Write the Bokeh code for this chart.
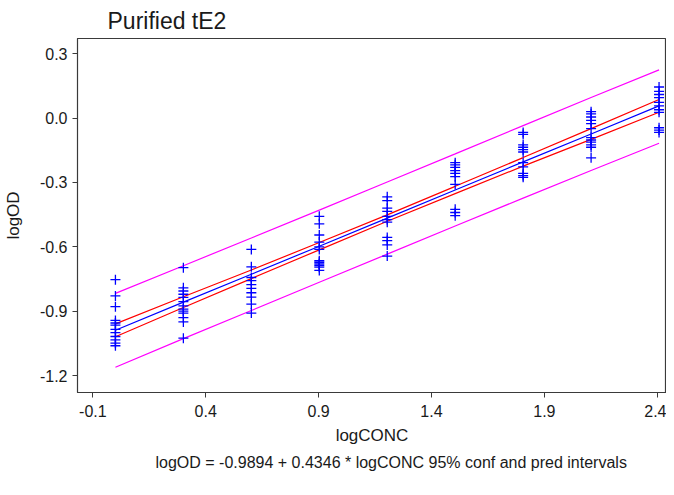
from bokeh.plotting import figure
from bokeh.models import Range1d, FixedTicker, Title, ColumnDataSource, PrintfTickFormatter
from bokeh.embed import file_html
from bokeh.resources import INLINE

# ---- data ----
log_conc = [0.0, 0.301, 0.602, 0.903, 1.204, 1.505, 1.806, 2.107, 2.408]

od_0 = [-0.753, -0.829, -0.879, -0.943, -0.955, -0.965, -0.985, -1.000, -1.018, -1.034, -1.049, -1.061]
od_1 = [-0.697, -0.791, -0.806, -0.821, -0.836, -0.855, -0.875, -0.890, -0.900, -0.909, -0.930, -0.950, -1.026]
od_2 = [-0.612, -0.693, -0.743, -0.758, -0.776, -0.794, -0.814, -0.834, -0.867, -0.909]
od_3 = [-0.458, -0.493, -0.545, -0.578, -0.600, -0.612, -0.665, -0.672, -0.680, -0.688, -0.695, -0.710]
od_4 = [-0.367, -0.385, -0.420, -0.435, -0.458, -0.473, -0.485, -0.556, -0.571, -0.591, -0.643]
od_5 = [-0.208, -0.218, -0.230, -0.245, -0.258, -0.273, -0.309, -0.425, -0.440, -0.455]
od_6 = [-0.067, -0.076, -0.125, -0.136, -0.147, -0.158, -0.208, -0.227, -0.258, -0.268, -0.276]
od_7 = [0.030, 0.020, 0.005, -0.011, -0.026, -0.049, -0.091, -0.102, -0.112, -0.125, -0.136, -0.185]
od_8 = [0.145, 0.125, 0.110, 0.095, 0.073, 0.057, 0.039, 0.027, -0.045, -0.056, -0.067]

fit_line = [-0.989, -0.858, -0.728, -0.597, -0.466, -0.335, -0.204, -0.074, 0.057]
conf_upper = [-0.959, -0.833, -0.708, -0.580, -0.451, -0.318, -0.184, -0.049, 0.087]
conf_lower = [-1.019, -0.883, -0.748, -0.614, -0.481, -0.352, -0.224, -0.099, 0.027]
pred_upper = [-0.817, -0.688, -0.559, -0.429, -0.298, -0.167, -0.035, 0.096, 0.225]
pred_lower = [-1.161, -1.028, -0.897, -0.765, -0.634, -0.503, -0.373, -0.244, -0.117]

x_ticks = [-0.1, 0.4, 0.9, 1.4, 1.9, 2.4]
y_ticks = [-1.2, -0.9, -0.6, -0.3, 0.0, 0.3]

title_text = "Purified tE2"
x_label = "logCONC"
y_label = "logOD"
footer_text = "logOD = -0.9894 + 0.4346 * logCONC 95% conf and pred intervals"

# ---- build ----
groups = [od_0, od_1, od_2, od_3, od_4, od_5, od_6, od_7, od_8]
px, py = [], []
for xv, ys in zip(log_conc, groups):
    for yv in ys:
        px.append(xv)
        py.append(yv)

FONT = "Liberation Sans"
TXT = "#1a1a1a"

p = figure(width=666, height=479, output_backend="svg", toolbar_location=None,
           x_range=Range1d(-0.168, 2.441), y_range=Range1d(-1.279, 0.371),
           min_border_left=0, min_border_right=0, min_border_top=0,
           min_border_bottom=0)

p.title.text = title_text
p.title.text_font = FONT
p.title.text_font_size = "23px"
p.title.text_font_style = "normal"
p.title.text_color = TXT
p.title.align = "left"
p.title.offset = 30
p.title.standoff = 10

p.xgrid.visible = False
p.ygrid.visible = False
p.outline_line_color = "#3a3a3a"
p.outline_line_width = 1.2

for ax, ticks in ((p.xaxis, x_ticks), (p.yaxis, y_ticks)):
    ax.ticker = FixedTicker(ticks=ticks)
    ax.formatter = PrintfTickFormatter(format="%.1f")
    ax.minor_tick_line_color = None
    ax.major_tick_in = 0
    ax.major_tick_out = 5
    ax.axis_line_color = "#3a3a3a"
    ax.major_tick_line_color = "#3a3a3a"
    ax.major_label_text_font = FONT
    ax.major_label_text_font_size = "16px"
    ax.major_label_text_color = TXT
    ax.axis_label_text_font = FONT
    ax.axis_label_text_font_size = "17px"
    ax.axis_label_text_font_style = "normal"
    ax.axis_label_text_color = TXT

p.xaxis.axis_label = x_label
p.yaxis.axis_label = y_label
p.xaxis.major_label_standoff = 7
p.yaxis.major_label_standoff = 5
p.xaxis.axis_label_standoff = 6
p.yaxis.axis_label_standoff = 14

p.line(log_conc, pred_upper, line_color="#ff00ff", line_width=1.2)
p.line(log_conc, pred_lower, line_color="#ff00ff", line_width=1.2)
p.line(log_conc, conf_upper, line_color="#ff0000", line_width=1.2)
p.line(log_conc, conf_lower, line_color="#ff0000", line_width=1.2)
p.line(log_conc, fit_line, line_color="#0000ff", line_width=1.2)

src = ColumnDataSource(data=dict(x=px, y=py))
p.scatter("x", "y", source=src, marker="cross", size=10, line_color="#0000ff", line_width=1.3)

footer = Title(text=footer_text, align="left", offset=78, standoff=13,
               vertical_align="top",
               text_font=FONT, text_font_size="16px", text_font_style="normal",
               text_color=TXT)
p.add_layout(footer, "below")

open("out.html", "w").write(file_html(p, INLINE))
